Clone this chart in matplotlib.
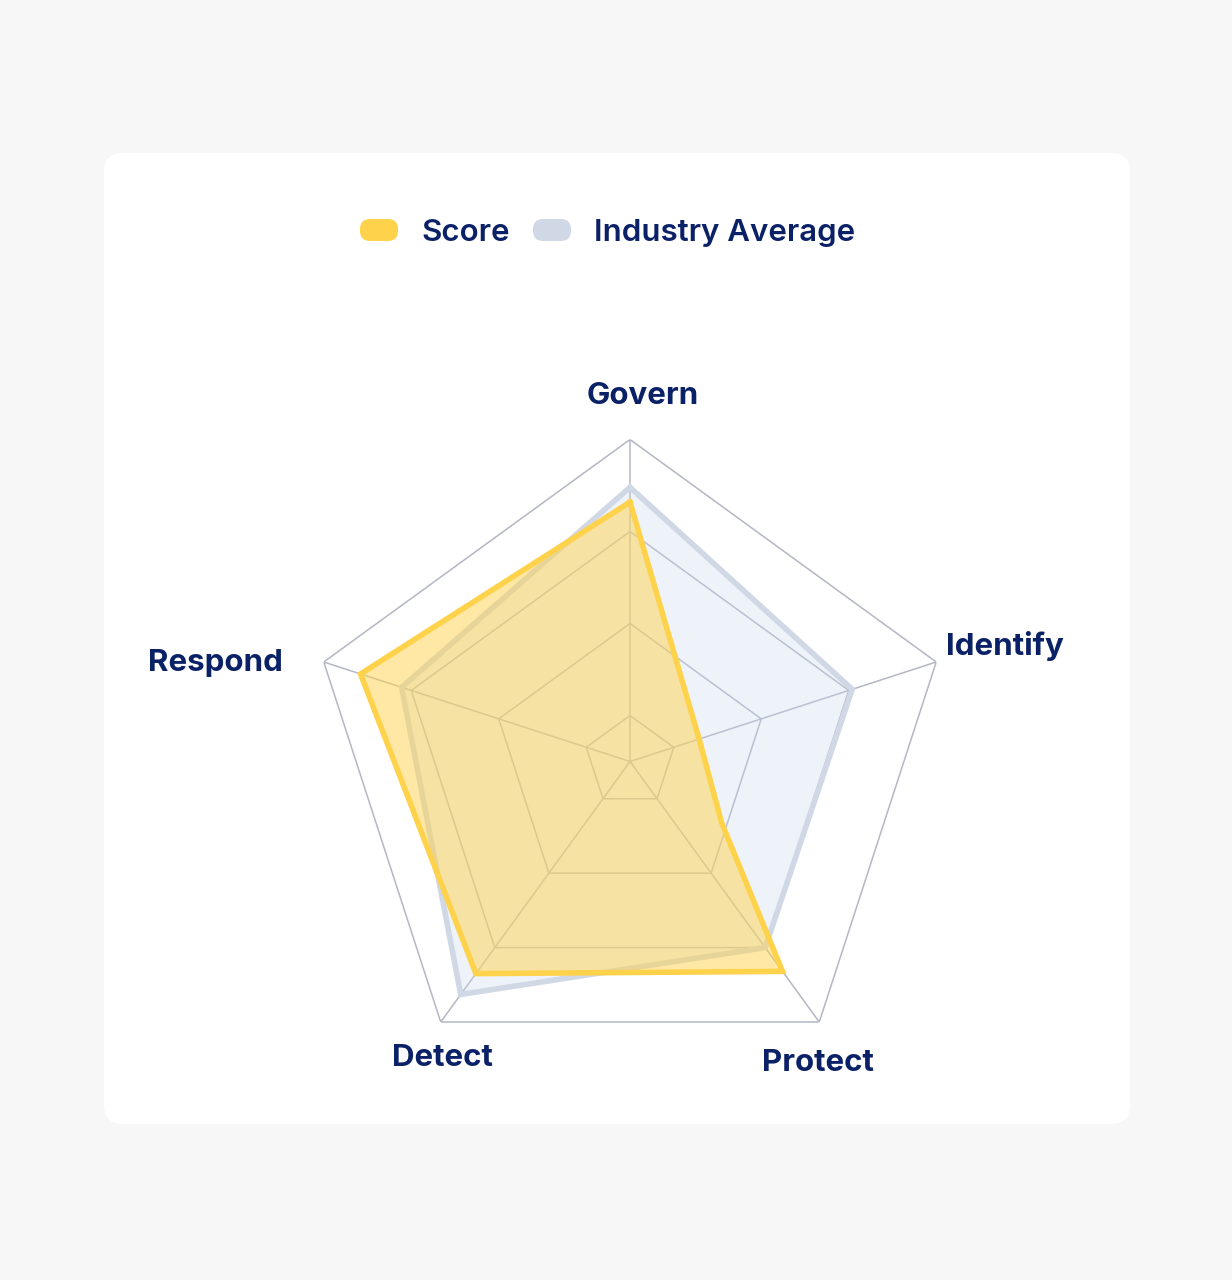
import numpy as np
import matplotlib
matplotlib.use("Agg")
import matplotlib.pyplot as plt
from matplotlib.patches import FancyBboxPatch

# ---------------- data ----------------
categories = ["Govern", "Identify", "Protect", "Detect", "Respond"]
series_names = ["Score", "Industry Average"]
score = [3.32, 1.29, 3.32, 3.35, 3.58]
industry = [3.48, 3.04, 3.00, 3.63, 3.11]
# the reference Score outline bends once between Identify and Protect
score_bend_position = 1.72   # in category units (Identify = 1, Protect = 2)
score_bend_value = 1.70
ring_values = [1, 2, 3, 4]
r_min, r_max = 0.5, 4.0

# ---------------- style ----------------
W, H, DPI = 1232, 1280, 100
bg = "#f7f7f7"
text_color = "#0b2167"
grid_color = "#b4b7c3"
score_color = "#ffd24c"
industry_line = "#d0d8e6"
industry_fill = "#c8d8ec"
plt.rcParams["font.family"] = ["Inter", "DejaVu Sans"]

fig = plt.figure(figsize=(W / DPI, H / DPI), dpi=DPI, facecolor=bg)

# card
card = FancyBboxPatch((104 / DPI, (H - 1124) / DPI), 1026 / DPI, 971 / DPI,
                      boxstyle="round,pad=0,rounding_size=0.19",
                      transform=fig.dpi_scale_trans, facecolor="white",
                      edgecolor="none", zorder=-5)
fig.patches.append(card)

# polar axes placed so that centre is at (630, 761.5) px and radius 322 px
cx, cy, R = 630, 761.5, 322
ax = fig.add_axes([(cx - R) / W, (H - cy - R) / H, 2 * R / W, 2 * R / H],
                  projection="polar")
ax.set_zorder(2)
ax.set_theta_zero_location("N")
ax.set_theta_direction(-1)
ax.set_ylim(r_min, r_max)
ax.grid(False)
ax.set_xticks([])
ax.set_yticks([])
ax.spines["polar"].set_visible(False)
ax.patch.set_alpha(0)

n = len(categories)
theta = np.arange(n) * 2 * np.pi / n
theta_closed = np.append(theta, theta[0])

# grid rings and spokes
for v in ring_values:
    ax.plot(theta_closed, [v] * (n + 1), color=grid_color, lw=1.1, zorder=1)
for t in theta:
    ax.plot([t, t], [r_min, r_max], color=grid_color, lw=1.1, zorder=1)

# industry average
ind_closed = np.append(industry, industry[0])
ax.fill(theta_closed, ind_closed, color=industry_fill, alpha=0.3, lw=0, zorder=2)
ax.plot(theta_closed, ind_closed, color=industry_line, lw=4.0, zorder=3,
        solid_joinstyle="miter")

# score (with the bend between Identify and Protect)
bend_theta = score_bend_position * 2 * np.pi / n
s_theta = np.concatenate([theta[:2], [bend_theta], theta[2:], [theta[0]]])
s_vals = np.concatenate([score[:2], [score_bend_value], score[2:], [score[0]]])
ax.fill(s_theta, s_vals, color=score_color, alpha=0.5, lw=0, zorder=4)
ax.plot(s_theta, s_vals, color=score_color, lw=4.0, zorder=5,
        solid_joinstyle="miter")

# category labels
label_fmt = {
    "Govern": (13, 36, "center"),
    "Identify": (10, 7, "left"),
    "Protect": (-1, -49, "center"),
    "Detect": (2, -44, "center"),
    "Respond": (-41, -9, "right"),
}
for t, cat in zip(theta, categories):
    dx, dy, ha = label_fmt[cat]
    ax.annotate(cat, xy=(t, r_max), xytext=(dx, dy), textcoords="offset pixels",
                ha=ha, va="baseline", fontsize=22.5, fontweight="bold",
                color=text_color, annotation_clip=False)

# legend
legend_colors = [score_color, industry_line]
pill_x = [360, 533]
text_x = [421, 594]
for name, col, px, tx in zip(series_names, legend_colors, pill_x, text_x):
    pill = FancyBboxPatch((px / DPI, (H - 241) / DPI), 38 / DPI, 22 / DPI,
                          boxstyle="round,pad=0,rounding_size=0.1",
                          transform=fig.dpi_scale_trans, facecolor=col,
                          edgecolor="none", zorder=2)
    fig.patches.append(pill)
    fig.text(tx / DPI, (H - 241) / DPI, name, transform=fig.dpi_scale_trans,
             ha="left", va="baseline", fontsize=22.5, fontweight="semibold",
             color=text_color)

fig.savefig("out.png", dpi=DPI, facecolor=bg)
